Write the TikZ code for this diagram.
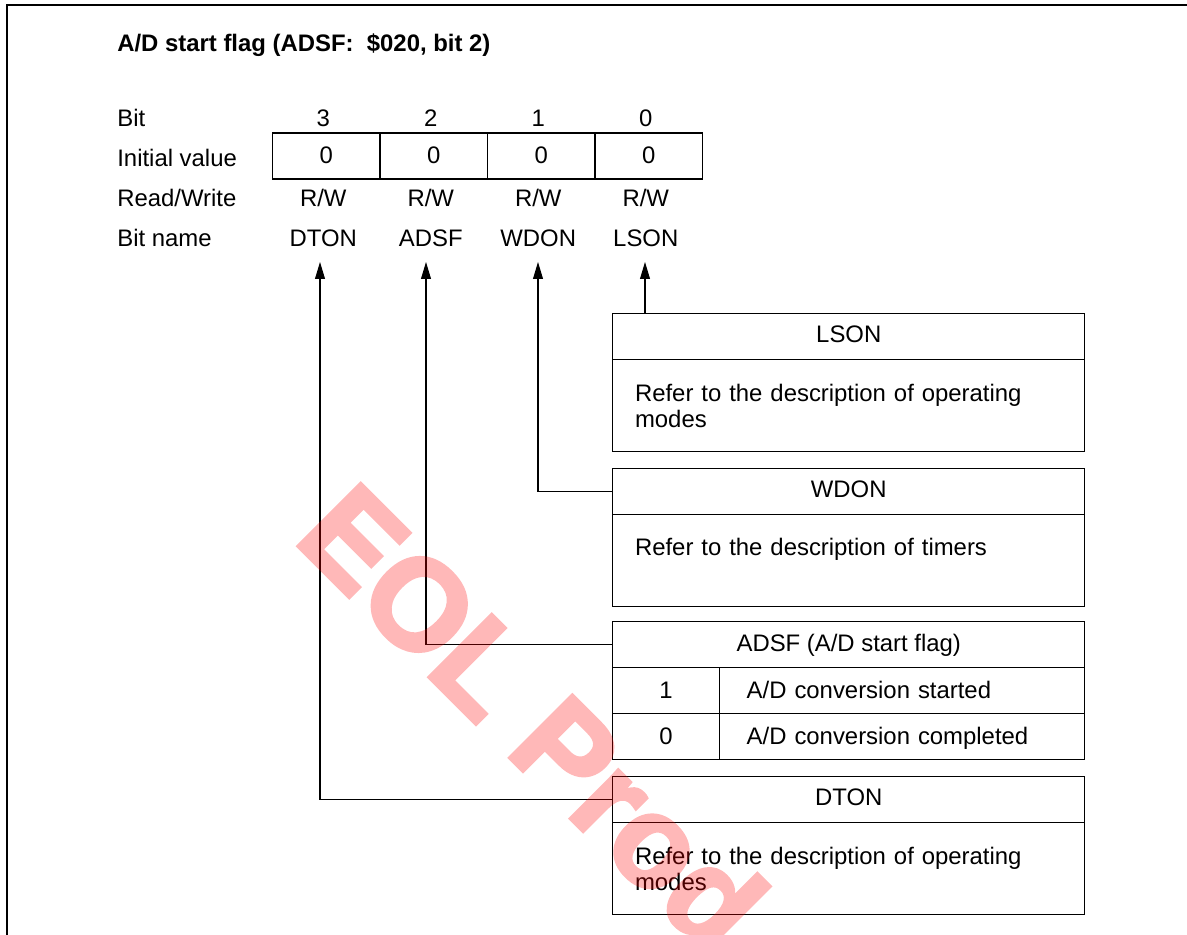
\documentclass[tikz,border=0pt]{standalone}
\usepackage{fontspec}
\setmainfont{Liberation Sans}
\newfontfamily\wmfont[BoldFeatures={FakeBold=3}]{Liberation Sans}
\usetikzlibrary{arrows.meta,positioning}
\tikzset{
  % register table
  lbl/.style={anchor=base west, inner sep=0pt},
  num/.style={anchor=base, inner sep=0pt},
  cell/.style={draw, line width=0.6pt, outer sep=0pt, inner sep=0pt,
    text height=0.95em, text depth=0.05em,
    minimum width=2.15cm, minimum height=0.92cm},
  % description boxes
  hdr/.style={draw, line width=0.6pt, outer sep=0pt, inner sep=0pt,
    text height=0.78em, text depth=0.05em,
    minimum width=9.45cm, minimum height=0.92cm},
  body/.style={draw, line width=0.6pt, outer sep=0pt, inner xsep=0.45cm,
    text width=8.55cm, minimum height=1.84cm, align=left},
  flow/.style={line width=0.6pt, -{Triangle[length=9.6pt,width=5.6pt]}},
  frame/.style={line width=1.1pt},
  wmk/.style={text=red, inner sep=0pt,
    font=\wmfont\bfseries\fontsize{73}{80}\selectfont}
}
\begin{document}
\begin{tikzpicture}[x=0.02cm, y=-0.02cm, font=\fontsize{13.6}{14.8}\selectfont]
  \useasboundingbox (0,0) rectangle (1187,935);
  \draw[frame] (6.7,950) -- (6.7,5) -- (1200,5);

  \node[lbl, font=\bfseries\fontsize{13.6}{14.8}\selectfont] (title) at (117,52)
    {A/D start flag (ADSF:\ \ \$020, bit 2)};

  % row labels
  \node[lbl] (lbit)  at (117,127) {Bit};
  \node[lbl] (linit) at (117,167) {Initial value};
  \node[lbl] (lrw)   at (117,207) {Read/Write};
  \node[lbl] (lname) at (117,247) {Bit name};

  \foreach \b/\x/\n in {3/326.25/DTON, 2/433.75/ADSF, 1/541.25/WDON, 0/648.75/LSON} {
    \node[num]  (bit\b) at (\x-3,127) {\b};
    \node[cell] (iv\b)  at (\x,156) {0};
    \node[num]  (rw\b)  at (\x-3,207) {R/W};
    \node[num]  (bn\b)  at (\x-3,247) {\n};
  }
  \coordinate (tip3) at (320,262);
  \coordinate (tip2) at (426,262);
  \coordinate (tip1) at (538,262);
  \coordinate (tip0) at (645,262);

  % LSON
  \node[hdr] (lsonh) at (848.75,336.5) {LSON};
  \node[body, below=0pt of lsonh] (lsonb) {Refer to the description of operating\\modes};
  % WDON
  \node[hdr] (wdonh) at (848.75,491.3) {WDON};
  \node[body, below=0pt of wdonh] (wdonb) {Refer to the description of timers\\\mbox{}};
  % ADSF
  \node[hdr] (adsfh) at (848.75,644.7) {ADSF (A/D start flag)};
  \node[cell, below=0pt of adsfh.south west, anchor=north west, minimum width=2.136cm] (adsf1v) {1};
  \node[cell, right=0pt of adsf1v, minimum width=7.314cm, text width=6.218cm,
    inner xsep=0.548cm, align=left] (adsf1d) {A/D conversion started};
  \node[cell, below=0pt of adsf1v, minimum width=2.136cm] (adsf0v) {0};
  \node[cell, right=0pt of adsf0v, minimum width=7.314cm, text width=6.218cm,
    inner xsep=0.548cm, align=left] (adsf0d) {A/D conversion completed};
  % DTON
  \node[hdr] (dtonh) at (848.75,799.5) {DTON};
  \node[body, below=0pt of dtonh] (dtonb) {Refer to the description of operating\\modes};

  \draw[flow] (lsonh.north -| tip0) -- (tip0);
  \draw[flow] (wdonh.west) -| (tip1);
  \draw[flow] (adsfh.west) -| (tip2);
  \draw[flow] (dtonh.west) -| (tip3);

  \begin{scope}[transparency group, opacity=0.28]
    \node[wmk, anchor=base west, rotate=-45] (wm) at (292,540) {EOL Prod};
  \end{scope}
\end{tikzpicture}
\end{document}
